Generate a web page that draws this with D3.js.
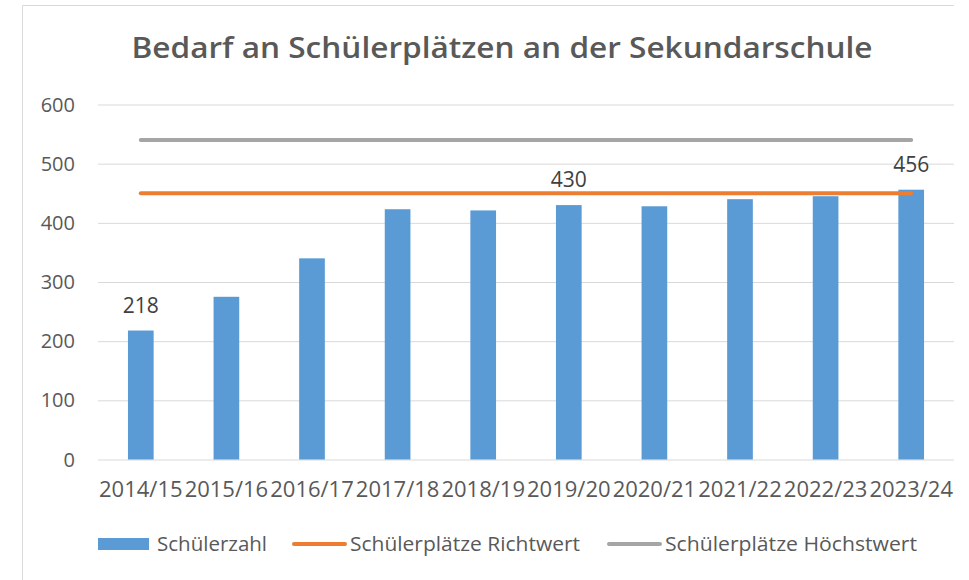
<!DOCTYPE html>
<html>
<head>
<meta charset="utf-8">
<script src="https://cdn.jsdelivr.net/npm/d3@7"></script>
<style>
  body { margin: 0; background: #fff; }
  svg { display: block; font-family: "Open Sans", sans-serif; }
</style>
</head>
<body>
<svg id="chart" width="969" height="580"></svg>
<script>
// data
const categories = ['2014/15', '2015/16', '2016/17', '2017/18', '2018/19',
                    '2019/20', '2020/21', '2021/22', '2022/23', '2023/24'];
const schuelerzahl = [218, 275, 340, 423, 421, 430, 428, 440, 445, 456];
const richtwert = [450, 450, 450, 450, 450, 450, 450, 450, 450, 450];
const hoechstwert = [540, 540, 540, 540, 540, 540, 540, 540, 540, 540];
const labelled = ['2014/15', '2019/20', '2023/24'];
const yTicks = [0, 100, 200, 300, 400, 500, 600];

const svg = d3.select('#chart');

// chart frame (only top/left edges visible in the picture)
svg.append('path')
    .attr('d', 'M22.5,580 V5.5 H954')
    .attr('fill', 'none')
    .attr('stroke', '#d9d9d9');

let x = d3.scaleBand()
    .domain(categories)
    .range([98, 954])
    .paddingInner(0.7)
    .paddingOuter(0.35);

let y = d3.scaleLinear()
    .domain([0, 600])
    .range([459.5, 104.5]);

// gridlines
svg.append('g')
    .attr('transform', 'translate(98,0)')
    .call(d3.axisLeft(y).tickValues(yTicks).tickSize(-856).tickFormat(''))
    .call(g => g.select('.domain').remove())
    .call(g => g.selectAll('line').attr('stroke', '#d9d9d9'));

// y tick labels
svg.append('g')
    .selectAll('text')
    .data(yTicks)
    .join('text')
    .attr('x', 75)
    .attr('y', d => y(d) + 7)
    .attr('text-anchor', 'end')
    .attr('font-size', 20)
    .attr('fill', '#595959')
    .text(d => d);

// bars
svg.append('g')
    .selectAll('rect')
    .data(categories)
    .join('rect')
    .attr('x', d => x(d))
    .attr('width', x.bandwidth())
    .attr('y', (d, i) => y(schuelerzahl[i]))
    .attr('height', (d, i) => y(0) - y(schuelerzahl[i]))
    .attr('fill', '#5b9bd5');

// horizontal reference lines
let cx = d => x(d) + x.bandwidth() / 2;
let line = d3.line().x(d => cx(d[0])).y(d => y(d[1]));

svg.append('path')
    .datum(categories.map((c, i) => [c, hoechstwert[i]]))
    .attr('d', line)
    .attr('fill', 'none')
    .attr('stroke', '#a5a5a5')
    .attr('stroke-width', 4)
    .attr('stroke-linecap', 'round');

svg.append('path')
    .datum(categories.map((c, i) => [c, richtwert[i]]))
    .attr('d', line)
    .attr('fill', 'none')
    .attr('stroke', '#ed7d31')
    .attr('stroke-width', 4)
    .attr('stroke-linecap', 'round');

// data labels
svg.append('g')
    .selectAll('text')
    .data(categories.filter(c => labelled.includes(c)))
    .join('text')
    .attr('x', d => cx(d))
    .attr('y', d => y(schuelerzahl[categories.indexOf(d)]) - 18)
    .attr('text-anchor', 'middle')
    .attr('font-size', 21)
    .attr('fill', '#404040')
    .text(d => schuelerzahl[categories.indexOf(d)]);

// x labels
svg.append('g')
    .selectAll('text')
    .data(categories)
    .join('text')
    .attr('x', d => cx(d))
    .attr('y', 497)
    .attr('text-anchor', 'middle')
    .attr('font-size', 22)
    .attr('fill', '#595959')
    .text(d => d);

// title
svg.append('text')
    .attr('x', 502)
    .attr('y', 58)
    .attr('text-anchor', 'middle')
    .attr('font-size', 28)
    .attr('font-weight', 600)
    .attr('fill', '#595959')
    .attr('textLength', 741)
    .attr('lengthAdjust', 'spacingAndGlyphs')
    .text('Bedarf an Schülerplätzen an der Sekundarschule');

// legend
let legend = svg.append('g');
legend.append('rect')
    .attr('x', 98).attr('y', 538)
    .attr('width', 51).attr('height', 12)
    .attr('fill', '#5b9bd5');
legend.append('text')
    .attr('x', 157).attr('y', 551)
    .attr('font-size', 20.5).attr('fill', '#595959')
    .text('Schülerzahl');

legend.append('line')
    .attr('x1', 294).attr('x2', 345).attr('y1', 544).attr('y2', 544)
    .attr('stroke', '#ed7d31').attr('stroke-width', 4)
    .attr('stroke-linecap', 'round');
legend.append('text')
    .attr('x', 350).attr('y', 551)
    .attr('font-size', 20.5).attr('fill', '#595959')
    .attr('textLength', 230)
    .attr('lengthAdjust', 'spacingAndGlyphs')
    .text('Schülerplätze Richtwert');

legend.append('line')
    .attr('x1', 609).attr('x2', 660).attr('y1', 544).attr('y2', 544)
    .attr('stroke', '#a5a5a5').attr('stroke-width', 4)
    .attr('stroke-linecap', 'round');
legend.append('text')
    .attr('x', 665).attr('y', 551)
    .attr('font-size', 20.5).attr('fill', '#595959')
    .attr('textLength', 252)
    .attr('lengthAdjust', 'spacingAndGlyphs')
    .text('Schülerplätze Höchstwert');
</script>
</body>
</html>
